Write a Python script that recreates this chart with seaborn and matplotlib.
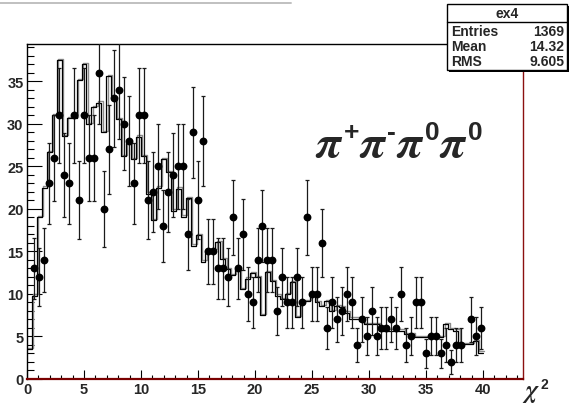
import matplotlib
matplotlib.use("Agg")
import numpy as np
import pandas as pd
import seaborn as sns
import matplotlib.pyplot as plt
from matplotlib.patches import Rectangle
from matplotlib.lines import Line2D
from matplotlib.transforms import ScaledTranslation
from matplotlib.ticker import MultipleLocator

W, H = 570, 406

# observed counts per bin (92 bins from 0 to 40); 0 means empty bin
counts = [0, 13, 12, 14, 23, 26, 31, 24, 23, 31, 21, 31, 26, 26, 36, 20, 27, 33, 34, 30,
          28, 23, 31, 31, 21, 22, 25, 18, 22, 24, 25, 25, 17, 29, 21, 28, 15, 15, 13, 13,
          12, 19, 13, 17, 10, 9, 14, 18, 14, 14, 8, 12, 9, 9, 12, 9, 19, 10, 10, 16,
          6, 9, 7, 8, 10, 9, 4, 7, 5, 8, 5, 6, 6, 7, 6, 10, 4, 5, 9, 9,
          3, 5, 5, 3, 4, 2, 4, 4, 0, 7, 5, 6]

# expected (model) histogram contents, same binning
model = [3.5, 9.8, 19.0, 22.5, 26.7, 31.0, 37.5, 28.6, 30.7, 30.7, 35.2, 37.0, 30.0, 32.0,
         32.5, 29.0, 35.6, 33.0, 30.6, 26.2, 27.7, 25.9, 28.5, 26.2, 21.8, 18.7, 22.5, 25.9,
         24.3, 19.8, 22.4, 19.1, 21.3, 15.7, 16.9, 13.8, 15.1, 15.1, 16.1, 14.1, 12.9, 12.2,
         12.9, 10.6, 11.8, 12.5, 12.0, 7.5, 12.6, 11.5, 9.8, 9.4, 10.0, 11.4, 7.3, 9.2,
         9.2, 9.8, 9.0, 8.6, 9.2, 8.0, 8.6, 8.5, 7.8, 7.1, 7.1, 6.8, 6.5, 6.5, 6.5, 5.7,
         5.7, 5.7, 5.7, 5.7, 5.3, 5.3, 4.9, 4.9, 4.9, 4.9, 4.9, 4.9, 6.5, 5.9, 5.7, 4.1,
         4.1, 4.1, 4.5, 3.1]

x_ticks = [0, 5, 10, 15, 20, 25, 30, 35, 40]
y_ticks = [0, 5, 10, 15, 20, 25, 30, 35]
stats_title = "ex4"
stats_names = ["Entries", "Mean", "RMS"]
stats_values = ["1369", "14.32", "9.605"]

x_lo, x_hi = 0.0, 40.0
nbins = len(counts)
bin_w = (x_hi - x_lo) / nbins
centers = x_lo + bin_w * (np.arange(nbins) + 0.5)

sns.set_style("white")
plt.rcParams["font.family"] = ["Liberation Sans", "DejaVu Sans"]
plt.rcParams["font.weight"] = "bold"

fig = plt.figure(figsize=(W / 100, H / 100), dpi=100)
fig.patch.set_facecolor("white")
ax = fig.add_axes([27 / W, 1 - 380 / H, 496 / W, 335 / H])
ax.set_facecolor("white")

df_model = pd.DataFrame({"chi2": centers, "w": model})
df_pts = pd.DataFrame({"chi2": centers, "n": counts})
df_pts = df_pts[df_pts["n"] > 0]

# model histogram: gray copy slightly offset under the black outline
before = set(ax.get_children())
sns.histplot(data=df_model, x="chi2", weights="w", binwidth=bin_w,
             binrange=(x_lo, x_hi), element="step", fill=False, color="#8c8c8c",
             linewidth=1.0, ax=ax)
shift = ScaledTranslation(1.2 / 100, 1.2 / 100, fig.dpi_scale_trans)
for art in set(ax.get_children()) - before:
    if isinstance(art, Line2D) or hasattr(art, "get_path"):
        try:
            art.set_transform(ax.transData + shift)
        except Exception:
            pass
sns.histplot(data=df_model, x="chi2", weights="w", binwidth=bin_w,
             binrange=(x_lo, x_hi), element="step", fill=False, color="black",
             linewidth=0.9, ax=ax)

# data points with Poisson errors
ax.errorbar(df_pts["chi2"], df_pts["n"], yerr=np.sqrt(df_pts["n"]), fmt="none",
            ecolor="#1a1a1a", elinewidth=0.9, capsize=1.6, capthick=0.9, zorder=3)
sns.scatterplot(data=df_pts, x="chi2", y="n", color="black", s=32, linewidth=0,
                marker="o", ax=ax, zorder=4)

ax.set_xlim(0, 43.5)
ax.set_ylim(0, 39.4)
ax.set_xlabel("")
ax.set_ylabel("")
ax.set_xticks(x_ticks)
ax.set_yticks(y_ticks)
ax.set_xticklabels([str(t) for t in x_ticks], fontsize=10.5, fontweight="bold")
ax.set_yticklabels([str(t) for t in y_ticks], fontsize=10.5, fontweight="bold")
ax.xaxis.set_minor_locator(MultipleLocator(1))
ax.yaxis.set_minor_locator(MultipleLocator(1))
ax.tick_params(axis="x", which="major", direction="in", length=6.2, width=0.8,
               pad=2.5, color="black", bottom=True, top=False)
ax.tick_params(axis="x", which="minor", direction="in", length=2.8, width=0.8,
               color="black", bottom=True, top=False)
ax.tick_params(axis="y", which="major", direction="in", length=10.5, width=0.8,
               pad=2.5, color="black", left=True, right=False)
ax.tick_params(axis="y", which="minor", direction="in", length=5.2, width=0.8,
               color="black", left=True, right=False)
for side in ("left", "top"):
    ax.spines[side].set_color("black")
    ax.spines[side].set_linewidth(1.0)
ax.spines["right"].set_color("#8b1010")
ax.spines["right"].set_linewidth(1.0)
ax.spines["bottom"].set_color("#7a0000")
ax.spines["bottom"].set_linewidth(1.6)
ax.grid(False)


def fx(px):
    return px / W


def fy(py):
    return 1 - py / H


fig.canvas.draw()
renderer = fig.canvas.get_renderer()


def draw_sequence(x0, base, pieces):
    x = x0
    for s, props, rise in pieces:
        t = fig.text(fx(x), fy(base - rise), s, ha="left", va="baseline", **props)
        x += t.get_window_extent(renderer).width


pi_font = dict(fontsize=33, fontweight="normal", math_fontfamily="stix")
sup_font = dict(family="Liberation Sans", fontsize=19, fontweight="bold")
PI = r"$\pi$"
draw_sequence(315, 157, [(PI, pi_font, 0), ("+", sup_font, 17),
                         (PI, pi_font, 0), ("-", sup_font, 17),
                         (PI, pi_font, 0), ("0", sup_font, 17),
                         (PI, pi_font, 0), ("0", sup_font, 17)])

# axis title
draw_sequence(522, 398, [(r"$\chi$", dict(fontsize=18, math_fontfamily="stix"), 0),
                         ("2", dict(family="Liberation Sans", fontsize=10,
                                    fontweight="bold"), 9)])

# thin pad line along the top
fig.add_artist(Line2D([fx(0), fx(291)], [fy(4.3), fy(4.3)], color="#c0c0c0", lw=1.4))

# statistics box
bx0, by0, bx1, by1 = 447, 5, 567, 71
fig.add_artist(Rectangle((fx(bx0 + 2), fy(by1 + 2)), (bx1 - bx0) / W, (by1 - by0) / H,
                         facecolor="black", edgecolor="black", lw=0))
fig.add_artist(Rectangle((fx(bx0), fy(by1)), (bx1 - bx0) / W, (by1 - by0) / H,
                         facecolor="white", edgecolor="black", lw=1.0))
fig.add_artist(Line2D([fx(bx0), fx(bx1)], [fy(22.5), fy(22.5)], color="black", lw=1.0))
fig.text(fx((bx0 + bx1) / 2), fy(14), stats_title, ha="center", va="center",
         fontsize=10, fontweight="bold")
for i, (name, val) in enumerate(zip(stats_names, stats_values)):
    yy = 31.5 + 15.5 * i
    fig.text(fx(bx0 + 4), fy(yy), name, ha="left", va="center", fontsize=10,
             fontweight="bold")
    fig.text(fx(bx1 - 3), fy(yy), val, ha="right", va="center", fontsize=10,
             fontweight="bold")

fig.savefig("out.png", dpi=100, facecolor="white")
